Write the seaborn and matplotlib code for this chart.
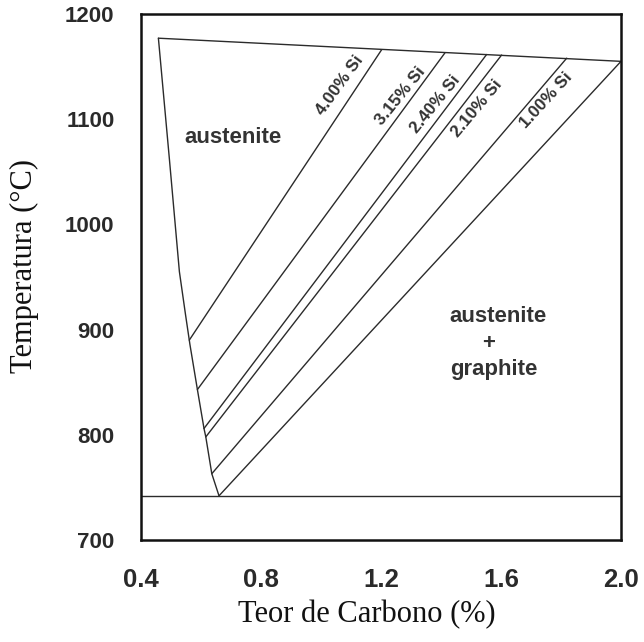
import matplotlib
matplotlib.use("Agg")
import matplotlib.pyplot as plt
import seaborn as sns
import pandas as pd

# ---- data ----
boundary_C = [0.458, 0.495, 0.528, 0.548, 0.563, 0.588, 0.610, 0.616, 0.636, 0.660]
boundary_T = [1177, 1061, 955, 915, 886, 843, 806, 798, 763, 742]

solidus_C = [0.458, 2.0]
solidus_T = [1177, 1155]

eutectoid_C = [0.4, 2.0]
eutectoid_T = [742, 742]

si_low_C = [0.561, 0.588, 0.610, 0.616, 0.636, 0.660]
si_low_T = [890, 843, 806, 798, 763, 742]
si_top_C = [1.202, 1.413, 1.552, 1.602, 1.819, 2.0]
si_top_T = [1166, 1163, 1161.5, 1161, 1158, 1155]

si_labels = ["4.00% Si", "3.15% Si", "2.40% Si", "2.10% Si", "1.00% Si"]
si_label_C = [1.063, 1.266, 1.380, 1.519, 1.752]
si_label_T = [1132.5, 1122, 1114.4, 1110.4, 1117.6]
si_label_rot = [54, 51, 51, 50, 47.5]

x_ticks = [0.4, 0.8, 1.2, 1.6, 2.0]
x_ticklabels = ["0.4", "0.8", "1.2", "1.6", "2.0"]
y_ticks = [700, 800, 900, 1000, 1100, 1200]
y_ticklabels = ["700", "800", "900", "1000", "1100", "1200"]

# ---- build long table ----
rows = []
for c, t in zip(boundary_C, boundary_T):
    rows.append(("boundary", c, t))
for c, t in zip(solidus_C, solidus_T):
    rows.append(("solidus", c, t))
for c, t in zip(eutectoid_C, eutectoid_T):
    rows.append(("eutectoid", c, t))
for i, (c0, t0, c1, t1) in enumerate(zip(si_low_C, si_low_T, si_top_C, si_top_T)):
    rows.append((f"si{i}", c0, t0))
    rows.append((f"si{i}", c1, t1))
df = pd.DataFrame(rows, columns=["line", "C", "T"])

sns.set_theme(style="white")
plt.rcParams["font.family"] = ["Liberation Sans", "DejaVu Sans"]

W, H = 644, 642
fig = plt.figure(figsize=(W / 100, H / 100), dpi=100)
ax = fig.add_axes([141 / W, 1 - 540 / H, 480 / W, 526 / H])

line_col = "#2b2b2b"
sns.lineplot(data=df, x="C", y="T", units="line", estimator=None, sort=False,
             color=line_col, linewidth=1.0, ax=ax, legend=False)

ax.set_xlim(0.4, 2.0)
ax.set_ylim(700, 1200)
ax.set_xticks(x_ticks)
ax.set_xticklabels(x_ticklabels)
ax.set_yticks(y_ticks)
ax.set_yticklabels(y_ticklabels)
ax.tick_params(axis="x", length=0, pad=20.5, labelsize=18.5, labelcolor="#2a2a2a")
ax.tick_params(axis="y", length=0, pad=19, labelsize=16, labelcolor="#2a2a2a")
for lbl in ax.get_xticklabels() + ax.get_yticklabels():
    lbl.set_fontweight("bold")

for s in ax.spines.values():
    s.set_visible(True)
    s.set_linewidth(1.8)
    s.set_color("#111111")

serif = ["Liberation Serif", "DejaVu Serif"]
ax.set_xlabel("Teor de Carbono (%)", fontsize=22, family=serif, color="#111111")
ax.set_ylabel("Temperatura (°C)", fontsize=22, family=serif, color="#111111")
ax.xaxis.set_label_coords(0.471, -0.113)
ax.yaxis.set_label_coords(-0.212, 0.521)

txt_col = "#333333"
for lab, c, t, r in zip(si_labels, si_label_C, si_label_T, si_label_rot):
    ax.text(c, t, lab, rotation=r, rotation_mode="anchor", ha="center", va="center",
            fontsize=12.3, fontweight="bold", color=txt_col)

for txt, c, t, va in [("austenite", 0.706, 1077, "baseline"),
                      ("austenite", 1.590, 907.5, "baseline"),
                      ("+", 1.560, 887, "center"),
                      ("graphite", 1.577, 857, "baseline")]:
    ax.text(c, t, txt, ha="center", va=va, fontsize=15.9, fontweight="bold", color=txt_col)

fig.savefig("out.png", dpi=100)
